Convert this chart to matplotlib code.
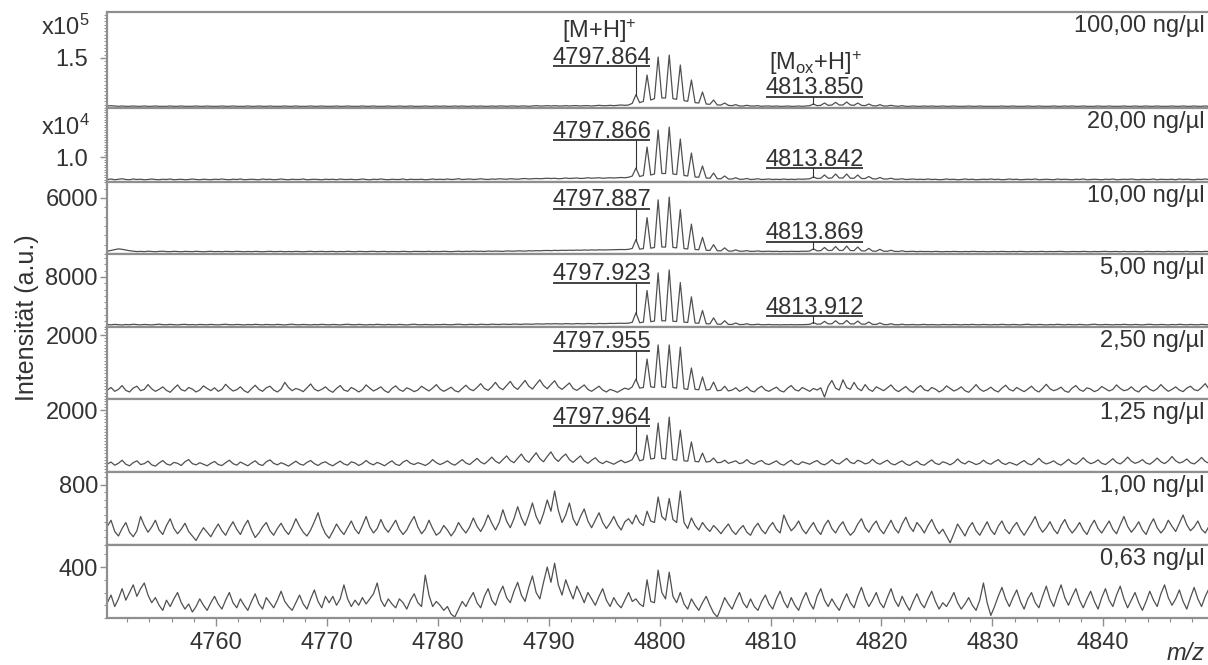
import numpy as np
import matplotlib.pyplot as plt
from matplotlib import gridspec
from matplotlib.ticker import MultipleLocator

plt.rcParams['font.family'] = ['Liberation Sans', 'DejaVu Sans']
plt.rcParams['mathtext.fontset'] = 'custom'
plt.rcParams['mathtext.rm'] = 'Liberation Sans'
plt.rcParams['mathtext.it'] = 'Liberation Sans:italic'

# DATA
# every spectrum is sampled on the same m/z grid: start 4750.2, step 1/3 Da,
# one row = 10 Da (30 samples). values are in units of units[i] counts.
MZ0 = 4750.2
STEP = 1.0 / 3.0

spec_100 = [
    [6,7,6,5,6,5,5,6,5,5,6,5,5,6,5,5,5,6,5,5,6,5,5,5,6,5,5,6,5,5],
    [5,6,5,5,6,5,5,5,6,5,5,6,5,5,6,5,5,5,6,5,5,6,5,5,5,6,5,5,6,5],
    [5,5,6,5,5,6,5,5,5,6,5,5,6,5,5,5,6,5,5,6,5,5,6,5,5,5,6,5,5,6],
    [5,6,5,5,6,5,6,5,5,6,5,6,5,5,6,5,6,6,5,6,6,5,6,6,5,6,7,6,6,7],
    [6,7,6,6,7,6,7,7,6,7,7,6,7,8,7,7,8,7,8,9,8,9,14,40,16,20,99,24,28,153],
    [30,30,159,28,26,129,22,20,84,16,15,48,12,11,24,9,9,15,8,7,10,6,6,8,6,6,7,5,6,6],
    [5,6,5,5,6,5,5,6,5,6,7,12,7,8,15,8,9,17,9,9,18,9,8,15,8,7,12,7,6,10],
    [6,6,8,6,5,7,5,5,6,5,5,6,5,6,5,5,6,5,5,6,5,5,5,6,5,5,6,5,5,5],
    [5,5,6,5,5,6,5,5,5,6,5,5,6,5,5,5,6,5,5,6,5,6,5,5,6,5,5,5,6,5],
    [5,6,5,5,5,6,5,5,6,5,5,6,5,5,6,5,5,5,6,5,5,6,5,5,6,5,5,6,5,5],
]
spec_20 = [
    [10,12,9,11,13,10,9,12,10,11,9,10,12,10,9,11,10,12,9,10,11,9,10,12,10,9,11,10,9,11],
    [10,12,10,9,11,10,12,9,10,11,10,9,12,10,11,9,10,12,10,9,11,10,10,12,9,10,11,10,9,11],
    [10,11,9,12,10,10,11,9,10,12,10,9,11,10,12,10,9,11,10,10,12,9,11,10,10,11,9,10,12,10],
    [11,10,12,10,11,13,10,11,12,10,11,13,11,10,12,11,13,12,11,13,12,11,13,14,12,13,14,13,14,15],
    [14,15,13,14,16,14,15,16,14,15,17,15,16,17,15,16,17,16,17,18,17,19,24,56,22,26,140,28,32,208],
    [34,34,220,32,30,172,26,24,116,20,19,64,16,15,36,13,13,24,12,12,17,11,11,14,10,11,13,10,11,12],
    [10,11,10,12,10,11,10,12,11,12,13,20,14,15,28,15,16,32,16,16,32,15,15,28,14,14,22,13,12,18],
    [12,12,15,11,11,13,10,11,12,10,11,10,12,10,11,9,10,12,10,11,9,10,12,10,11,9,10,11,10,12],
    [10,11,9,10,12,10,11,9,10,11,10,12,9,10,11,10,9,12,10,11,10,9,11,10,12,9,10,11,10,9],
    [11,10,12,9,10,11,10,12,10,9,11,10,10,12,9,11,10,10,11,9,12,10,11,10,9,11,10,12,10,11],
]
spec_10 = [
    [30,38,45,55,50,42,35,30,26,28,25,30,27,24,28,30,26,25,29,27,24,28,26,25,29,26,24,27,29,25],
    [27,24,28,26,25,29,26,24,27,25,28,26,24,27,29,25,26,28,24,27,25,28,26,24,27,29,25,26,28,25],
    [26,28,24,27,25,29,26,24,28,26,25,27,29,25,26,28,24,27,26,25,29,26,24,28,27,25,26,29,25,27],
    [26,29,27,25,28,30,26,29,27,31,28,30,27,32,29,31,30,28,33,31,30,34,32,31,35,33,36,34,37,38],
    [36,39,37,40,38,41,39,42,40,43,41,44,42,45,43,44,46,45,47,48,47,50,60,155,52,58,390,62,70,580],
    [75,74,610,70,66,475,58,54,320,48,46,178,40,38,100,35,34,66,32,31,44,30,30,36,28,29,33,27,28,30],
    [27,29,26,28,27,29,28,27,30,29,32,55,34,36,70,37,38,80,38,38,85,37,36,75,34,33,60,31,30,50],
    [30,29,40,28,27,34,26,27,29,25,28,26,27,25,28,26,24,27,25,28,26,24,27,25,28,26,25,27,24,26],
    [27,25,28,26,24,27,25,28,26,24,27,25,26,28,24,27,25,26,28,25,24,27,26,25,28,26,24,27,25,26],
    [28,25,26,27,24,28,25,26,27,25,24,28,26,25,27,26,24,28,25,27,26,25,28,24,26,27,25,28,26,25],
]
spec_5 = [
    [40,35,42,38,33,40,36,44,39,34,41,37,33,40,45,38,35,42,37,34,40,43,36,39,34,41,38,35,42,37],
    [34,40,44,37,35,41,38,33,40,36,43,39,34,41,37,35,42,38,33,40,45,37,35,41,38,34,40,36,43,38],
    [35,41,37,34,40,44,38,35,42,37,33,40,36,43,39,34,41,37,35,42,38,33,40,45,37,35,41,38,34,40],
    [37,42,38,35,41,45,39,36,43,40,37,44,41,38,45,42,39,46,43,41,47,44,42,48,46,44,50,48,47,52],
    [49,53,50,48,54,51,49,55,52,50,56,53,51,57,54,55,58,56,59,60,58,62,75,228,68,78,584,85,95,866],
    [100,98,912,92,88,711,78,72,483,64,60,264,52,50,146,46,44,100,42,41,64,39,40,52,37,38,45,36,37,41],
    [35,38,34,37,36,39,35,38,37,40,42,70,45,48,90,50,51,100,51,52,105,50,49,95,47,45,80,42,41,65],
    [40,38,52,37,36,45,35,37,40,34,38,42,35,39,36,34,40,37,35,41,38,34,40,36,42,37,35,41,38,34],
    [40,36,43,38,35,41,37,34,40,44,37,35,41,38,33,40,36,43,39,34,41,37,35,42,38,33,40,45,37,35],
    [41,38,34,40,36,43,38,35,41,37,34,40,44,37,35,41,38,33,40,36,43,39,34,41,37,35,42,38,33,40],
]
spec_2_5 = [
    [28,36,24,30,42,27,22,34,40,26,30,45,32,24,30,38,27,21,33,44,29,25,36,31,22,28,41,33,26,35],
    [24,30,46,34,25,29,38,26,20,32,43,30,24,35,40,28,22,31,52,36,26,33,29,23,35,47,31,25,30,38],
    [27,21,33,42,28,24,36,30,22,29,44,34,25,31,38,26,20,33,41,29,24,35,30,23,28,40,32,25,34,45],
    [31,24,30,37,26,22,33,43,31,26,36,48,33,27,38,52,36,29,42,55,38,30,44,58,40,31,46,60,42,32],
    [45,57,38,30,40,50,33,27,35,44,30,24,32,40,28,22,30,26,21,28,34,30,38,62,34,36,125,38,36,169],
    [38,36,169,36,34,162,32,30,97,30,29,69,28,30,53,26,27,40,25,28,35,24,30,38,26,22,33,40,28,24],
    [31,37,26,22,34,42,29,25,36,30,24,33,28,35,6,40,58,34,28,60,36,30,52,33,26,45,30,24,38,32],
    [26,35,44,30,23,31,39,27,21,34,42,29,25,36,31,22,28,41,33,25,30,38,26,21,32,45,31,24,29,37],
    [27,22,34,43,30,25,36,29,23,31,40,28,22,33,46,32,26,30,37,25,21,34,42,29,24,35,31,23,28,39],
    [32,25,30,44,33,26,29,38,27,22,35,41,30,25,32,45,33,24,30,38,28,23,34,40,29,26,36,48,31,25],
]
spec_1_25 = [
    [26,32,22,28,38,25,20,30,36,24,27,35,23,19,29,37,26,22,31,28,21,33,40,27,23,30,25,20,28,34],
    [24,21,30,38,27,22,32,26,20,29,36,25,21,33,39,28,23,30,25,19,27,35,26,22,31,37,27,21,29,33],
    [25,20,28,35,26,22,33,29,21,27,37,28,23,31,26,20,29,36,25,21,32,38,28,24,30,26,21,28,40,30],
    [24,29,36,27,22,31,40,29,24,34,44,32,26,36,48,35,28,40,52,37,30,44,58,40,31,47,62,43,33,50],
    [65,45,34,48,58,40,31,42,52,36,28,38,46,33,27,35,30,25,32,38,30,34,40,64,36,40,119,42,44,158],
    [44,42,177,40,38,135,36,35,97,34,33,61,32,34,45,30,31,38,28,32,36,27,30,40,29,25,33,37,27,24],
    [30,36,26,22,31,38,27,24,33,29,25,32,37,27,23,30,40,29,26,35,44,31,27,38,33,26,30,41,30,25],
    [32,38,27,23,30,36,26,21,29,35,25,22,31,39,28,24,33,29,23,30,42,31,26,35,30,24,28,38,29,25],
    [33,40,29,24,31,27,22,30,37,27,23,32,44,32,26,30,36,27,22,31,41,30,25,34,46,34,27,31,39,28],
    [24,33,43,31,26,35,48,35,28,32,40,29,25,34,45,33,27,36,50,36,29,33,42,30,26,35,47,34,28,38],
]
spec_1_0 = [
    [250,330,180,120,220,300,170,110,190,380,260,170,240,330,200,140,260,350,220,150,210,290,180,120,60,150,230,170,110,200],
    [280,190,130,230,310,210,140,250,330,200,100,160,240,300,190,130,220,290,200,140,230,350,250,170,120,200,310,430,260,150],
    [90,180,280,200,140,230,320,210,150,260,380,240,160,220,340,230,170,250,330,210,140,200,300,380,240,150,210,330,220,130],
    [170,260,200,120,190,300,220,160,240,360,250,180,270,400,290,200,300,470,320,230,350,510,360,260,400,560,380,280,420,600],
    [450,720,460,300,400,560,350,260,380,480,320,230,330,430,300,220,290,380,270,200,310,350,280,400,300,260,450,320,300,640],
    [380,330,620,340,300,720,300,220,360,260,200,300,230,180,260,210,150,220,280,190,140,210,260,170,130,230,290,200,150,240],
    [300,210,160,400,280,190,240,320,210,150,230,300,200,140,260,330,220,160,250,310,200,130,180,280,350,230,170,260,320,210],
    [150,240,330,220,160,280,370,250,180,300,240,160,260,340,230,150,210,120,30,150,280,200,120,230,300,190,130,220,310,200],
    [140,250,320,210,150,240,300,200,130,210,290,380,250,170,230,310,210,150,260,340,230,160,220,300,200,140,250,330,220,160],
    [240,320,210,150,270,380,250,170,230,310,200,140,260,350,230,160,220,330,250,180,290,400,270,190,240,320,210,160,250,310],
]
spec_0_63 = [
    [120,180,90,150,230,140,200,260,170,230,275,180,120,160,100,60,140,90,150,200,120,70,110,47,90,150,100,60,120,170],
    [110,70,140,200,120,80,150,100,60,130,190,110,70,160,120,80,140,210,130,90,60,120,180,110,70,150,220,130,80,170],
    [120,170,100,150,260,150,90,140,100,160,110,150,190,275,140,90,150,110,80,150,120,70,140,190,120,90,337,180,90,130],
    [100,60,90,30,8,70,130,90,150,200,120,80,170,230,140,100,190,250,160,120,210,280,180,130,240,330,200,150,280,400],
    [280,430,260,180,300,220,150,250,190,120,200,150,100,170,230,140,90,160,110,80,140,200,130,150,110,90,300,130,120,376],
    [200,150,360,170,120,200,110,70,150,100,60,120,170,100,40,8,80,160,110,70,140,200,120,80,150,90,60,130,180,110],
    [70,150,210,130,80,160,100,60,140,200,120,70,170,230,140,90,150,100,60,130,190,120,80,170,240,150,90,140,200,120],
    [80,160,230,140,90,170,110,60,130,190,120,80,150,210,130,70,120,90,140,200,120,70,110,160,100,60,140,275,120,20],
    [90,170,240,150,90,160,220,130,70,150,200,120,80,170,250,150,90,180,260,160,100,170,230,140,80,150,210,130,70,160],
    [230,140,90,180,250,150,80,140,200,120,60,130,210,140,90,190,260,160,100,150,220,130,70,160,240,150,90,170,230,140],
]

spectra = [spec_100, spec_20, spec_10, spec_5, spec_2_5, spec_1_25, spec_1_0, spec_0_63]
units = [1000, 100, 10, 10, 10, 10, 1, 1]
conc = ["100,00 ng/µl", "20,00 ng/µl", "10,00 ng/µl", "5,00 ng/µl",
        "2,50 ng/µl", "1,25 ng/µl", "1,00 ng/µl", "0,63 ng/µl"]

# y axes: top limit, labelled tick, tick text, minor step
ytops = [288000, 29600, 7714, 11680, 2250, 2355, 973, 573]
yticks = [150000, 10000, 6000, 8000, 2000, 2000, 800, 400]
ytick_text = ["1.5", "1.0", "6000", "8000", "2000", "2000", "800", "400"]
yminor = [10000, 1000, 1000, 1000, 100, 100, 100, 100]
yexp = ["x10$^{5}$", "x10$^{4}$"]

# peak annotations
mono_mz = 4797.87
ox_mz = 4813.87
mono_text = ["4797.864", "4797.866", "4797.887", "4797.923", "4797.955", "4797.964"]
ox_text = ["4813.850", "4813.842", "4813.869", "4813.912"]
xticks = np.arange(4760, 4841, 10)

# LAYOUT (pixel geometry of the reference)
W, H = 1208, 665
edges = [12, 108, 182, 254, 327, 399, 472, 545, 618]
mono_under = [66, 140, 209, 283, 351, 426]
ox_under = [97, 168, 242, 316]
XLIM = (4750.17, 4850.53)

line_c = "#505050"
frame_c = "#8f8f8f"
text_c = "#333333"
FS = 17

fig = plt.figure(figsize=(W / 100, H / 100), dpi=100)
gs = gridspec.GridSpec(8, 1, height_ratios=np.diff(edges), hspace=0,
                       left=107 / W, right=1220 / W, top=1 - 12 / H, bottom=1 - 618 / H)


def ypx(i, y):
    """pixel row of the reference -> data value in panel i"""
    top, bot = edges[i], edges[i + 1]
    return ytops[i] * (bot - y) / (bot - top)


def label_peak(ax, i, text, y_under, peak_mz, xl, xr, x, y):
    yu = ypx(i, y_under)
    ax.text((xl + xr) / 2, ypx(i, y_under - 2.5), text, ha="center", va="baseline",
            fontsize=FS, color=text_c)
    ax.plot([xl, xr], [yu, yu], color=text_c, lw=1.3, clip_on=False, solid_capstyle="butt")
    k = np.argmin(abs(x - peak_mz))
    ax.plot([x[k], x[k]], [yu, y[k]], color=text_c, lw=0.8)


for i, rows in enumerate(spectra):
    ax = fig.add_subplot(gs[i])
    x = np.concatenate([MZ0 + 10 * r + STEP * np.arange(len(v)) for r, v in enumerate(rows)])
    y = np.concatenate([np.array(v, float) for v in rows]) * units[i]
    ax.plot(x, y, color=line_c, lw=0.9, solid_joinstyle="round")
    ax.set_xlim(*XLIM)
    ax.set_ylim(0, ytops[i])

    for s in ax.spines.values():
        s.set_color(frame_c)
        s.set_linewidth(1.6)

    ax.set_yticks([yticks[i]], [ytick_text[i]])
    ax.yaxis.set_minor_locator(MultipleLocator(yminor[i]))
    pad = 8.5 if i < 2 else 1.5
    ax.tick_params(axis="y", which="major", length=5, width=1, color=frame_c,
                   labelsize=FS, labelcolor=text_c, pad=pad)
    ax.tick_params(axis="y", which="minor", length=2.5, width=0.7, color=frame_c)

    if i < 7:
        ax.tick_params(axis="x", which="both", bottom=False, labelbottom=False)
    else:
        ax.set_xticks(xticks)
        ax.xaxis.set_minor_locator(MultipleLocator(2))
        ax.tick_params(axis="x", which="major", length=6, width=1, color=frame_c,
                       labelsize=FS, labelcolor=text_c, pad=4)
        ax.tick_params(axis="x", which="minor", length=3, width=0.8, color=frame_c)

    fig.text(1205 / W, 1 - (edges[i] + 20) / H, conc[i], ha="right", va="baseline",
             fontsize=FS, color=text_c)

    if i < len(mono_text):
        label_peak(ax, i, mono_text[i], mono_under[i], mono_mz, 4790.39, 4799.13, x, y)
    if i < len(ox_text):
        label_peak(ax, i, ox_text[i], ox_under[i], ox_mz, 4809.59, 4818.34, x, y)

    if i == 0:
        ax.text(4794.6, ypx(0, 38), "[M+H]$^{+}$", ha="center", va="baseline",
                fontsize=FS, color=text_c)
        ax.text(4814.1, ypx(0, 70), "[M$_{\\rm ox}$+H]$^{+}$", ha="center", va="baseline",
                fontsize=FS, color=text_c)

fig.text(90 / W, 1 - 35 / H, yexp[0], ha="right", va="baseline", fontsize=FS, color=text_c)
fig.text(90 / W, 1 - 135 / H, yexp[1], ha="right", va="baseline", fontsize=FS, color=text_c)
fig.text(27 / W, 1 - 318 / H, "Intensität (a.u.)", rotation=90, ha="center", va="center",
         fontsize=18, color=text_c)
fig.text(1205 / W, 1 - 660 / H, "m/z", style="italic", ha="right", va="baseline",
         fontsize=FS, color=text_c)

fig.savefig("out.png", dpi=100)
